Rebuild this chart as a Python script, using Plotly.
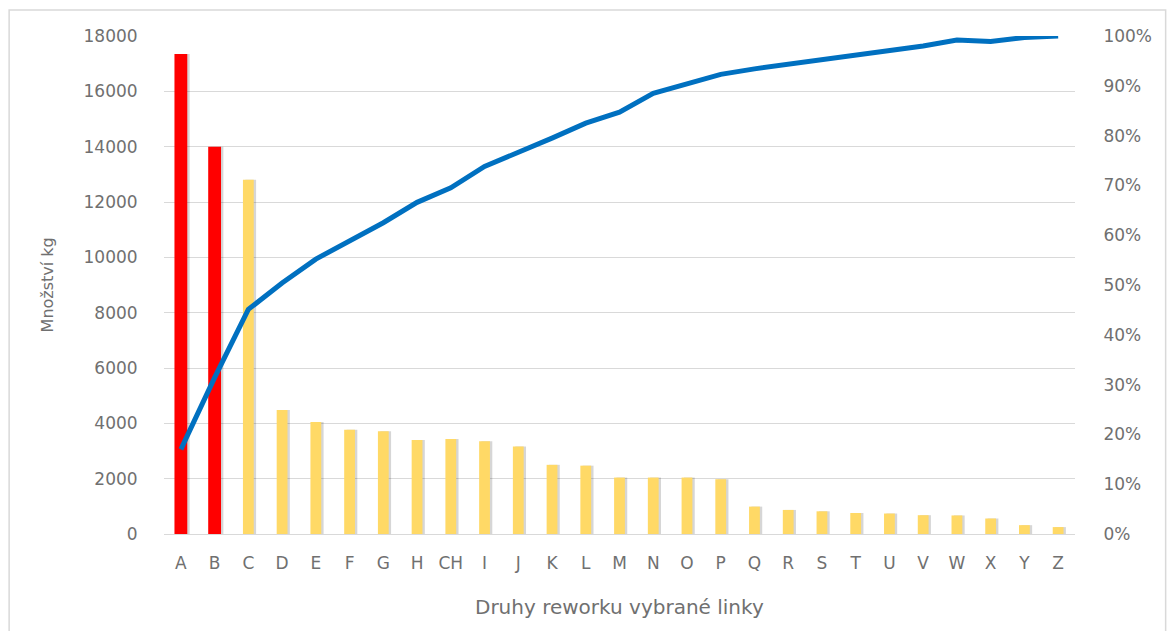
import plotly.graph_objects as go

# Rework types on the selected line, sorted by quantity
categories = ["A", "B", "C", "D", "E", "F", "G", "H", "CH", "I", "J", "K", "L",
              "M", "N", "O", "P", "Q", "R", "S", "T", "U", "V", "W", "X", "Y", "Z"]

# Quantity in kg per rework type
quantity_kg = [17350, 14000, 12800, 4480, 4050, 3770, 3710, 3400, 3430, 3350, 3160,
               2500, 2470, 2040, 2040, 2040, 1980, 990, 870, 820, 760, 740, 680,
               670, 560, 320, 250]

# Cumulative share (%)
cumulative_pct = [17.0, 31.4, 45.1, 50.4, 55.2, 58.8, 62.5, 66.6, 69.5, 73.8, 76.6,
                  79.5, 82.5, 84.7, 88.5, 90.5, 92.3, 93.4, 94.3, 95.1, 96.0, 96.9,
                  98.0, 99.2, 98.9, 99.7, 100.0]

left_ticks = [0, 2000, 4000, 6000, 8000, 10000, 12000, 14000, 16000, 18000]
left_tick_text = [str(t) for t in left_ticks]
right_ticks = [0, 10, 20, 30, 40, 50, 60, 70, 80, 90, 100]
right_tick_text = [f"{t}%" for t in right_ticks]

n_highlight = 2  # the two dominant rework types drawn in red

FONT = "'DejaVu Sans', sans-serif"
TXT = "#707070"
GRID = "#d9d9d9"
FS = 17

idx = list(range(len(categories)))
hi_x, hi_y = idx[:n_highlight], quantity_kg[:n_highlight]
lo_x, lo_y = idx[n_highlight:], quantity_kg[n_highlight:]

W_HI, W_LO = 0.38, 0.32
SHIFT = 0.07

fig = go.Figure()

# soft drop shadows behind the bars
fig.add_trace(go.Bar(x=hi_x, y=hi_y, width=W_HI, offset=-W_HI / 2 + SHIFT,
                     marker=dict(color="rgba(0,0,0,0.16)", line=dict(width=0)),
                     hoverinfo="skip", showlegend=False))
fig.add_trace(go.Bar(x=lo_x, y=lo_y, width=W_LO, offset=-W_LO / 2 + SHIFT,
                     marker=dict(color="rgba(0,0,0,0.16)", line=dict(width=0)),
                     hoverinfo="skip", showlegend=False))

fig.add_trace(go.Bar(x=hi_x, y=hi_y, width=W_HI, offset=-W_HI / 2,
                     marker=dict(color="#ff0000", line=dict(width=0)),
                     name="Množství kg", showlegend=False))
fig.add_trace(go.Bar(x=lo_x, y=lo_y, width=W_LO, offset=-W_LO / 2,
                     marker=dict(color="#ffd966", line=dict(width=0)),
                     name="Množství kg", showlegend=False))

fig.add_trace(go.Scatter(x=idx, y=cumulative_pct, yaxis="y2", mode="lines",
                         line=dict(color="#0070c0", width=5),
                         name="Kumulativně", showlegend=False))

fig.update_layout(
    width=1170, height=631,
    margin=dict(l=164, r=95, t=36, b=97),
    paper_bgcolor="white", plot_bgcolor="white",
    barmode="overlay",
    font=dict(family=FONT, size=FS, color=TXT),
    xaxis=dict(
        range=[-0.5, len(categories) - 0.5],
        tickmode="array", tickvals=idx, ticktext=categories,
        showgrid=False, zeroline=False,
        showline=True, linecolor=GRID, linewidth=1,
        ticks="outside", ticklen=14, tickcolor="rgba(0,0,0,0)",
        tickfont=dict(size=FS, color=TXT),
    ),
    yaxis=dict(
        range=[0, 18000],
        tickmode="array", tickvals=left_ticks, ticktext=left_tick_text,
        showgrid=True, gridcolor=GRID, gridwidth=1,
        zeroline=False, showline=False,
        ticks="outside", ticklen=22, tickcolor="rgba(0,0,0,0)",
        tickfont=dict(size=FS, color=TXT),
    ),
    yaxis2=dict(
        range=[0, 100], overlaying="y", side="right",
        tickmode="array", tickvals=right_ticks, ticktext=right_tick_text,
        showgrid=False, zeroline=False, showline=False,
        ticks="outside", ticklen=24, tickcolor="rgba(0,0,0,0)",
        tickfont=dict(size=FS, color=TXT),
    ),
    annotations=[
        dict(text="Druhy reworku vybrané linky", xref="paper", yref="paper",
             x=0.5, y=-0.146, xanchor="center", yanchor="middle",
             showarrow=False, font=dict(size=20, color=TXT)),
        dict(text="Množství kg", xref="paper", yref="paper",
             x=-0.128, y=0.5, xanchor="center", yanchor="middle", textangle=-90,
             showarrow=False, font=dict(size=16, color=TXT)),
    ],
    shapes=[
        dict(type="rect", xref="paper", yref="paper",
             x0=-0.170, x1=1.0995, y0=-0.25, y1=1.052,
             line=dict(color="#d9d9d9", width=1.5), fillcolor="rgba(0,0,0,0)",
             layer="below"),
    ],
)

fig.write_html("out.html")
